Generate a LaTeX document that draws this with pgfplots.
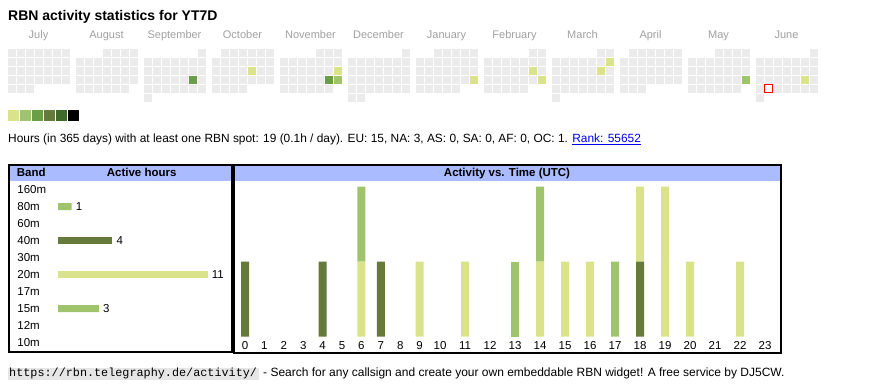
\documentclass[border=0pt]{standalone}
\usepackage{pgfplots}
\pgfplotsset{compat=1.18}
\usepackage{pgfplotstable}
\usepackage{fontspec}
\setmainfont{Liberation Sans}
\setmonofont{Liberation Mono}
\definecolor{cgrey}{HTML}{EBEBEB}
\definecolor{lvA}{HTML}{DAE38B}
\definecolor{lvB}{HTML}{9FC46B}
\definecolor{lvC}{HTML}{6A9F48}
\definecolor{lvD}{HTML}{667A3B}
\definecolor{lvE}{HTML}{3E6A2A}
\definecolor{hdr}{HTML}{AABBFF}
\definecolor{mgrey}{HTML}{A0A0A0}
\definecolor{lnk}{HTML}{0000EE}
\definecolor{codebg}{HTML}{E6E6E6}
\newcommand\fs[1]{\fontsize{#1}{#1}\selectfont}

% hourly activity: column position (px) and active hours per band
\pgfplotstableread{
hour pos b80 b40 b20 b15
0 245 0 1 0 0
1 264.4 0 0 0 0
2 283.8 0 0 0 0
3 303.2 0 0 0 0
4 322.6 0 1 0 0
5 342 0 0 0 0
6 361.4 0 0 1 1
7 380.8 0 1 0 0
8 400.2 0 0 0 0
9 419.6 0 0 1 0
10 440 0 0 0 0
11 465 0 0 1 0
12 490 0 0 0 0
13 515 1 0 0 0
14 540 0 0 1 1
15 565 0 0 1 0
16 590 0 0 1 0
17 615 0 0 0 1
18 640 0 1 1 0
19 665 0 0 2 0
20 690 0 0 1 0
21 715 0 0 0 0
22 740 0 0 1 0
23 765 0 0 0 0
}\acttable

% coloured calendar days: month index, weekday column, week row
\pgfplotstableread{
m c r
3 4 2
4 6 2
6 6 3
7 5 2
7 6 3
8 6 1
8 5 2
11 5 3
}\calA
\pgfplotstableread{
m c r
4 6 3
10 6 3
}\calB
\pgfplotstableread{
m c r
2 5 3
4 5 3
}\calC

\pgfplotsset{
  cell/.style={only marks, mark=square*, mark size=3.5pt, color=#1, mark options={line width=0pt, draw=#1, fill=#1}},
  mon/.style={x filter/.expression={11.5+68*#1+9*x}, y filter/.expression={52.8+9*y}},
}

\begin{document}
\begin{tikzpicture}
\useasboundingbox (0pt,0pt) rectangle (870pt,-390pt);

% ---------- calendar ----------
\begin{axis}[at={(0pt,0pt)}, anchor=north west, scale only axis, width=870pt, height=130pt,
  xmin=0, xmax=870, ymin=0, ymax=130, y dir=reverse, hide axis, clip=false, enlargelimits=false]
\addplot[cell=cgrey, mon=0] coordinates {(0,0)(1,0)(2,0)(3,0)(4,0)(5,0)(6,0)
 (0,1)(1,1)(2,1)(3,1)(4,1)(5,1)(6,1) (0,2)(1,2)(2,2)(3,2)(4,2)(5,2)(6,2)
 (0,3)(1,3)(2,3)(3,3)(4,3)(5,3)(6,3) (0,4)(1,4)(2,4)};
\addplot[cell=cgrey, mon=1] coordinates {(3,0)(4,0)(5,0)(6,0)
 (0,1)(1,1)(2,1)(3,1)(4,1)(5,1)(6,1) (0,2)(1,2)(2,2)(3,2)(4,2)(5,2)(6,2)
 (0,3)(1,3)(2,3)(3,3)(4,3)(5,3)(6,3) (0,4)(1,4)(2,4)(3,4)(4,4)(5,4)};
\addplot[cell=cgrey, mon=2] coordinates {(6,0)
 (0,1)(1,1)(2,1)(3,1)(4,1)(5,1)(6,1) (0,2)(1,2)(2,2)(3,2)(4,2)(5,2)(6,2)
 (0,3)(1,3)(2,3)(3,3)(4,3)(5,3)(6,3) (0,4)(1,4)(2,4)(3,4)(4,4)(5,4)(6,4) (0,5)};
\addplot[cell=cgrey, mon=3] coordinates {(1,0)(2,0)(3,0)(4,0)(5,0)(6,0)
 (0,1)(1,1)(2,1)(3,1)(4,1)(5,1)(6,1) (0,2)(1,2)(2,2)(3,2)(4,2)(5,2)(6,2)
 (0,3)(1,3)(2,3)(3,3)(4,3)(5,3)(6,3) (0,4)(1,4)(2,4)(3,4)};
\addplot[cell=cgrey, mon=4] coordinates {(4,0)(5,0)(6,0)
 (0,1)(1,1)(2,1)(3,1)(4,1)(5,1)(6,1) (0,2)(1,2)(2,2)(3,2)(4,2)(5,2)(6,2)
 (0,3)(1,3)(2,3)(3,3)(4,3)(5,3)(6,3) (0,4)(1,4)(2,4)(3,4)(4,4)(5,4)};
\addplot[cell=cgrey, mon=5] coordinates {(6,0)
 (0,1)(1,1)(2,1)(3,1)(4,1)(5,1)(6,1) (0,2)(1,2)(2,2)(3,2)(4,2)(5,2)(6,2)
 (0,3)(1,3)(2,3)(3,3)(4,3)(5,3)(6,3) (0,4)(1,4)(2,4)(3,4)(4,4)(5,4)(6,4) (0,5)(1,5)};
\addplot[cell=cgrey, mon=6] coordinates {(2,0)(3,0)(4,0)(5,0)(6,0)
 (0,1)(1,1)(2,1)(3,1)(4,1)(5,1)(6,1) (0,2)(1,2)(2,2)(3,2)(4,2)(5,2)(6,2)
 (0,3)(1,3)(2,3)(3,3)(4,3)(5,3)(6,3) (0,4)(1,4)(2,4)(3,4)(4,4)};
\addplot[cell=cgrey, mon=7] coordinates {(5,0)(6,0)
 (0,1)(1,1)(2,1)(3,1)(4,1)(5,1)(6,1) (0,2)(1,2)(2,2)(3,2)(4,2)(5,2)(6,2)
 (0,3)(1,3)(2,3)(3,3)(4,3)(5,3)(6,3) (0,4)(1,4)(2,4)(3,4)(4,4)};
\addplot[cell=cgrey, mon=8] coordinates {(5,0)(6,0)
 (0,1)(1,1)(2,1)(3,1)(4,1)(5,1)(6,1) (0,2)(1,2)(2,2)(3,2)(4,2)(5,2)(6,2)
 (0,3)(1,3)(2,3)(3,3)(4,3)(5,3)(6,3) (0,4)(1,4)(2,4)(3,4)(4,4)(5,4)(6,4) (0,5)};
\addplot[cell=cgrey, mon=9] coordinates {(1,0)(2,0)(3,0)(4,0)(5,0)(6,0)
 (0,1)(1,1)(2,1)(3,1)(4,1)(5,1)(6,1) (0,2)(1,2)(2,2)(3,2)(4,2)(5,2)(6,2)
 (0,3)(1,3)(2,3)(3,3)(4,3)(5,3)(6,3) (0,4)(1,4)(2,4)};
\addplot[cell=cgrey, mon=10] coordinates {(3,0)(4,0)(5,0)(6,0)
 (0,1)(1,1)(2,1)(3,1)(4,1)(5,1)(6,1) (0,2)(1,2)(2,2)(3,2)(4,2)(5,2)(6,2)
 (0,3)(1,3)(2,3)(3,3)(4,3)(5,3)(6,3) (0,4)(1,4)(2,4)(3,4)(4,4)(5,4)};
\addplot[cell=cgrey, mon=11] coordinates {(6,0)
 (0,1)(1,1)(2,1)(3,1)(4,1)(5,1)(6,1) (0,2)(1,2)(2,2)(3,2)(4,2)(5,2)(6,2)
 (0,3)(1,3)(2,3)(3,3)(4,3)(5,3)(6,3) (0,4)(2,4)(3,4)(4,4)(5,4)(6,4) (0,5)};
% coloured days
\addplot[cell=lvA] table[x expr=11.5+68*\thisrow{m}+9*\thisrow{c}, y expr=52.8+9*\thisrow{r}] {\calA};
\addplot[cell=lvB] table[x expr=11.5+68*\thisrow{m}+9*\thisrow{c}, y expr=52.8+9*\thisrow{r}] {\calB};
\addplot[cell=lvC] table[x expr=11.5+68*\thisrow{m}+9*\thisrow{c}, y expr=52.8+9*\thisrow{r}] {\calC};
% today
\addplot[only marks, mark=square, mark size=4pt, color=red, mark options={draw=red, line width=1pt}, mon=11] coordinates {(1,4)};
% colour scale
\addplot[cell=lvA, mark size=5pt] coordinates {(13,116)};
\addplot[cell=lvB, mark size=5pt] coordinates {(25,116)};
\addplot[cell=lvC, mark size=5pt] coordinates {(37,116)};
\addplot[cell=lvD, mark size=5pt] coordinates {(49,116)};
\addplot[cell=lvE, mark size=5pt] coordinates {(61,116)};
\addplot[cell=black, mark size=5pt] coordinates {(73,116)};
\end{axis}

% ---------- headers and frames ----------
\begin{scope}[x=1pt,y=-1pt]
\fill[hdr] (10,166.5) rectangle (230.5,181);
\fill[hdr] (235,166.5) rectangle (780,181);
\draw[line width=2pt] (9,165) rectangle (231.5,351.7);
\draw[line width=2pt] (234,165) rectangle (781,353);
\node[anchor=base west, inner sep=0] at (16.7,177) {\fs{11.5}\bfseries Band};
\node[anchor=base, inner sep=0] at (141.7,177) {\fs{11.5}\bfseries Active hours};
\node[anchor=base, inner sep=0] at (507,177) {\fs{11.5}\bfseries Activity vs. Time (UTC)};
\end{scope}

% ---------- band bars ----------
\begin{axis}[at={(58pt,-181pt)}, anchor=north west, x=13.6pt, y=17pt, y dir=reverse,
  xmin=0, xmax=11, ymin=-0.5, ymax=9.5, enlargelimits=false, clip=false,
  xbar, bar width=7pt, axis line style={draw=none}, tick style={draw=none},
  xtick=\empty, ytick={0,...,9},
  yticklabels={160m,80m,60m,40m,30m,20m,17m,15m,12m,10m},
  yticklabel style={font=\fs{11.5}, anchor=base west, inner sep=0pt, xshift=-36.5pt, yshift=-3.5pt},
  /pgf/number format/assume math mode=true,
  point meta=x, nodes near coords,
  nodes near coords style={font=\fs{11.5}, anchor=west, inner sep=0pt, xshift=4pt}]
\addplot[draw=none, fill=lvB, bar shift=0pt] coordinates {(1,1) (3,7)};
\addplot[draw=none, fill=lvD, bar shift=0pt] coordinates {(4,3)};
\addplot[draw=none, fill=lvA, bar shift=0pt] coordinates {(11,5)};
\end{axis}

% ---------- activity vs time ----------
\begin{axis}[at={(233pt,-336.7pt)}, anchor=south west, scale only axis, width=549pt, height=150pt,
  xmin=233, xmax=782, ymin=0, ymax=2, enlargelimits=false,
  ybar stacked, bar width=8pt, axis line style={draw=none}, tick style={draw=none},
  ytick=\empty, xtick=data,
  xticklabels={0,1,2,3,4,5,6,7,8,9,10,11,12,13,14,15,16,17,18,19,20,21,22,23},
  xticklabel style={font=\fs{11.5}, anchor=base, inner sep=0pt, yshift=-12.5pt}]
\addplot[draw=none, fill=lvB] table[x=pos, y=b80] {\acttable};
\addplot[draw=none, fill=lvD] table[x=pos, y=b40] {\acttable};
\addplot[draw=none, fill=lvA] table[x=pos, y=b20] {\acttable};
\addplot[draw=none, fill=lvB] table[x=pos, y=b15] {\acttable};
\end{axis}

% ---------- texts ----------
\begin{scope}[x=1pt,y=-1pt]
\node[anchor=base west, inner sep=0] at (8,20.7) {\fs{14}\bfseries RBN activity statistics for YT7D};
\foreach \mn [count=\i from 0] in {July,August,September,October,November,December,January,February,March,April,May,June}
  \node[anchor=base, inner sep=0, text=mgrey] at (38.5+68*\i,39) {\fs{11}\mn};
\node[anchor=base west, inner sep=0] at (8,142.3) {\fs{11.9}Hours (in 365 days) with at least one RBN spot: 19 (0.1h / day). EU: 15, NA: 3, AS: 0, SA: 0, AF: 0, OC: 1. {\color{lnk}\underline{Rank: 55652}}};
\fill[codebg] (8,368) rectangle (259,380);
\node[anchor=base west, inner sep=0] at (9,376.7) {\fs{11.8}\ttfamily https://rbn.telegraphy.de/activity/};
\node[anchor=base west, inner sep=0] at (263,376.7) {\fs{12}- Search for any callsign and create your own embeddable RBN widget! A free service by DJ5CW.};
\end{scope}
\end{tikzpicture}
\end{document}
